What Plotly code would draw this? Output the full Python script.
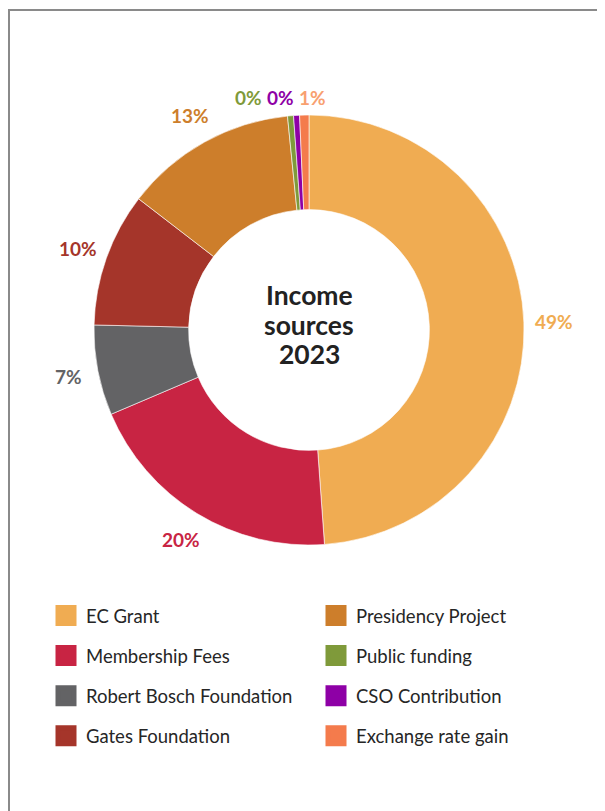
import math
import plotly.graph_objects as go

categories = ["EC Grant", "Membership Fees", "Robert Bosch Foundation", "Gates Foundation",
              "Presidency Project", "Public funding", "CSO Contribution", "Exchange rate gain"]
values = [49.0, 19.8, 6.8, 10.1, 13.0, 0.45, 0.45, 0.7]
colors = ["#F0AC52", "#C82443", "#636365", "#A5352A", "#CD7E2B", "#7F9A3A", "#8E00A6", "#F47B4C"]
label_colors = ["#F0AC52", "#C82443", "#636365", "#A5352A", "#CD7E2B", "#7F9A3A", "#8E00A6", "#F8A070"]
center_lines = ["Income", "sources", "2023"]

# page offset (body margin) and figure size
OFF = 8
W, H = 605 - OFF, 811 - OFF
FONT = "Lato"


def fx(px):
    return (px - OFF) / W


def fy(py):
    return 1 - (py - OFF) / H


fig = go.Figure()

# donut geometry (page pixels)
cx, cy, R = 309, 330, 215
fig.add_trace(go.Pie(
    labels=categories, values=values, sort=False, direction="clockwise", rotation=0,
    hole=0.56,
    marker=dict(colors=colors, line=dict(color="white", width=0.6)),
    textinfo="none",
    domain=dict(x=[fx(cx - R), fx(cx + R)], y=[fy(cy + R), fy(cy - R)]),
    showlegend=False, hoverinfo="label+percent",
))

annotations = []
# centre title, one line per annotation
for k, line in enumerate(center_lines):
    annotations.append(dict(x=fx(cx), y=fy(295 + 29.5 * k), xref="paper", yref="paper",
                            text=line, showarrow=False, xanchor="center", yanchor="middle",
                            font=dict(family=FONT, size=26.5, color="#222222", weight="bold")))

# percentage labels placed around the ring from the data
total = sum(values)
cum = 0.0
small = []
for i, v in enumerate(values):
    frac = v / total
    mid = (cum + frac / 2) * 2 * math.pi
    cum += frac
    txt = f"{round(frac * 100)}%"
    if frac < 0.02:
        small.append((i, txt))
        continue
    r = R + 30
    px = cx + r * math.sin(mid)
    py = cy - r * math.cos(mid)
    annotations.append(dict(x=fx(px), y=fy(py), xref="paper", yref="paper", text=txt,
                            showarrow=False, xanchor="center", yanchor="middle",
                            font=dict(family=FONT, size=19, color=label_colors[i], weight="bold")))
# tiny slices: labels in a row above the top of the ring
for k, (i, txt) in enumerate(small):
    px = cx + 3 - (len(small) - 1 - k) * 32
    py = cy - R - 18
    annotations.append(dict(x=fx(px), y=fy(py), xref="paper", yref="paper", text=txt,
                            showarrow=False, xanchor="center", yanchor="middle",
                            font=dict(family=FONT, size=19, color=label_colors[i], weight="bold")))

# legend entries (two columns, four rows each)
for i, (name, col) in enumerate(zip(categories, colors)):
    fig.add_trace(go.Scatter(
        x=[None], y=[None], mode="markers", name=name,
        marker=dict(symbol="square", size=16, color=col, line=dict(color=col, width=5)),
        legend="legend" if i < 4 else "legend2", legendgroup=f"g{i}",
        showlegend=True,
    ))

legend_common = dict(
    font=dict(family=FONT, size=18.5, color="#262626"),
    traceorder="grouped", tracegroupgap=13, yanchor="top", xanchor="left",
    bgcolor="rgba(0,0,0,0)", itemclick=False, itemdoubleclick=False,
)
fig.update_layout(
    width=W, height=H,
    margin=dict(l=0, r=0, t=0, b=0),
    paper_bgcolor="white", plot_bgcolor="white",
    xaxis=dict(visible=False), yaxis=dict(visible=False),
    legend=dict(x=fx(46), y=fy(597), **legend_common),
    legend2=dict(x=fx(316), y=fy(597), **legend_common),
    annotations=annotations,
    shapes=[dict(type="rect", xref="paper", yref="paper",
                 x0=fx(9), x1=1.05, y0=-0.05, y1=fy(10),
                 line=dict(color="#8a8a8a", width=2), fillcolor="rgba(0,0,0,0)")],
)

fig.write_html("out.html")
